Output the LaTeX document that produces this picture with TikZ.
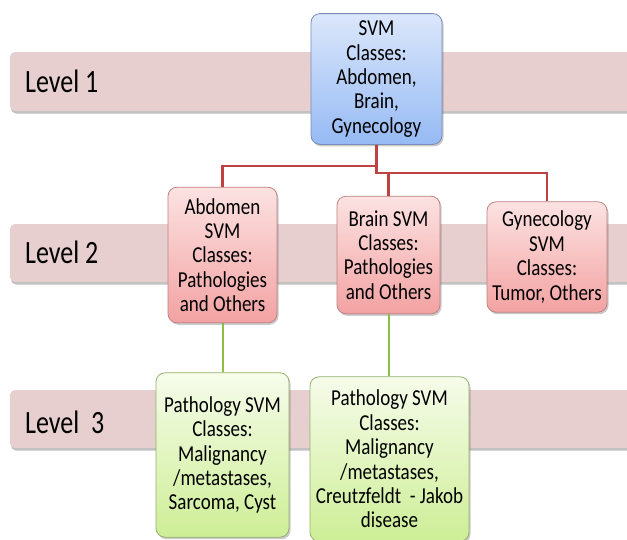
\documentclass[tikz,border=0pt]{standalone}
\usepackage{fontspec}
\setmainfont{Carlito}
\usepackage{tikz}
\usetikzlibrary{shadows}

\definecolor{bandpink}{RGB}{231,207,207}
\definecolor{roottop}{RGB}{219,231,251}
\definecolor{rootbot}{RGB}{150,186,244}
\definecolor{rootline}{RGB}{120,140,180}
\definecolor{pinktop}{RGB}{252,226,226}
\definecolor{pinkbot}{RGB}{243,162,162}
\definecolor{pinkline}{RGB}{190,130,130}
\definecolor{greentop}{RGB}{246,252,234}
\definecolor{greenbot}{RGB}{205,238,150}
\definecolor{greenline}{RGB}{150,175,110}
\definecolor{linkred}{RGB}{190,66,66}
\definecolor{linkgreen}{RGB}{140,190,70}

\begin{document}
\begin{tikzpicture}[x=1pt,y=-1pt,
	band/.style={fill=bandpink, rounded corners=5pt,
		drop shadow={shadow xshift=1pt, shadow yshift=-2.5pt, opacity=.35, fill=black!70}},
	levellabel/.style={anchor=west, inner sep=0pt, yscale=1.25,
		font=\fontsize{26}{30}\selectfont},
	svmbox/.style={draw, rounded corners=9pt, align=center, inner sep=2pt, yscale=1.2,
		font=\fontsize{19}{20.3}\selectfont, line width=.8pt,
		drop shadow={shadow xshift=1.5pt, shadow yshift=-2pt, opacity=.35, fill=black!60}},
	rootbox/.style={svmbox, draw=rootline, top color=roottop, bottom color=rootbot},
	organbox/.style={svmbox, draw=pinkline, top color=pinktop, bottom color=pinkbot},
	pathbox/.style={svmbox, draw=greenline, top color=greentop, bottom color=greenbot},
	redlink/.style={draw=linkred, line width=2.4pt},
	greenlink/.style={draw=linkgreen, line width=2pt}]
	\useasboundingbox (0,0) rectangle (627,539);
	\clip (0,0) rectangle (627,539);
	% Level Bands %
	\fill [band] (10,52) rectangle (660,111);
	\fill [band] (10,224) rectangle (660,282);
	\fill [band] (10,390) rectangle (660,448);
	\node [levellabel] (lvl1) at (25,81) {Level 1};
	\node [levellabel] (lvl2) at (25,252) {Level 2};
	\node [levellabel] (lvl3) at (25,422) {Level\hspace{.45em}3};

	% Classifier Boxes %
	\node [rootbox, minimum width=131pt, minimum height=109pt] (root) at (376.5,79)
		{SVM\\Classes:\\Abdomen,\\Brain,\\Gynecology};
	\node [organbox, minimum width=109pt, minimum height=113pt] (abd) at (222.5,255)
		{Abdomen\\SVM\\Classes:\\Pathologies\\and Others};
	\node [organbox, minimum width=103pt, minimum height=98pt] (brain) at (388.5,255)
		{Brain SVM\\Classes:\\Pathologies\\and Others};
	\node [organbox, minimum width=120pt, minimum height=92pt] (gyn) at (547,257)
		{Gynecology\\SVM\\Classes:\\Tumor, Others};
	\node [pathbox, minimum width=133pt, minimum height=137pt] (abdpath) at (222.5,455)
		{Pathology SVM\\Classes:\\Malignancy\\/metastases,\\Sarcoma, Cyst};
	\node [pathbox, minimum width=159pt, minimum height=137pt] (brainpath) at (389.5,459)
		{Pathology SVM\\Classes:\\Malignancy\\/metastases,\\Creutzfeldt \ - Jakob\\disease};

	% Links %
	\coordinate (fork1) at (376.5,166);
	\coordinate (fork2) at (376.5,173);
	\draw [redlink] (root.south) -- (fork1) -| (abd.north);
	\draw [redlink] (fork1) -- (fork2) -| (brain.north);
	\draw [redlink] (fork2) -| (gyn.north);
	\draw [greenlink] (abd.south) -- (abdpath.north);
	\draw [greenlink] (brain.south) -- (brain.south |- brainpath.north);
\end{tikzpicture}
\end{document}
